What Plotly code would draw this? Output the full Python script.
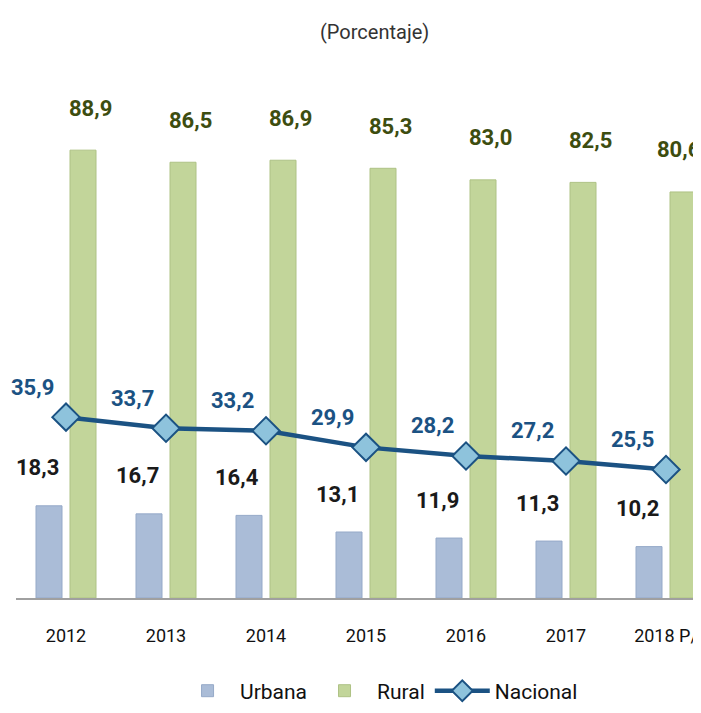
import plotly.graph_objects as go

years = ["2012", "2013", "2014", "2015", "2016", "2017", "2018 P/"]
urbana = [18.3, 16.7, 16.4, 13.1, 11.9, 11.3, 10.2]
rural = [88.9, 86.5, 86.9, 85.3, 83.0, 82.5, 80.6]
nacional = [35.9, 33.7, 33.2, 29.9, 28.2, 27.2, 25.5]

def fmt(v):
    return f"{v:.1f}".replace(".", ",")

FONT = "Roboto, Liberation Sans, sans-serif"

fig = go.Figure()
fig.add_trace(go.Bar(x=years, y=urbana, name="Urbana", offset=-0.30, width=0.26,
                     marker=dict(color="#aabcd7", line=dict(color="#95a9c8", width=1))))
fig.add_trace(go.Bar(x=years, y=rural, name="Rural", offset=0.04, width=0.26,
                     marker=dict(color="#c2d59a", line=dict(color="#aec285", width=1))))
fig.add_trace(go.Scatter(x=years, y=nacional, name="Nacional", mode="lines+markers",
                         line=dict(color="#1b5283", width=4.5),
                         marker=dict(symbol="diamond", size=21, color="#8ec3dc",
                                     line=dict(color="#1b5283", width=2))))

n = len(years)
ann = []
for i in range(n):
    ann.append(dict(x=i, y=urbana[i], text=f"<b>{fmt(urbana[i])}</b>", showarrow=False,
                    xref="x", yref="y", xshift=-29, yshift=38,
                    font=dict(family=FONT, size=22, color="#1a1a1a")))
    ann.append(dict(x=i, y=rural[i], text=f"<b>{fmt(rural[i])}</b>", showarrow=False,
                    xref="x", yref="y", xshift=24 if i < n - 1 else 12, yshift=42,
                    font=dict(family=FONT, size=22, color="#3d4d10")))
    ann.append(dict(x=i, y=nacional[i], text=f"<b>{fmt(nacional[i])}</b>", showarrow=False,
                    xref="x", yref="y", xshift=-34, yshift=30,
                    font=dict(family=FONT, size=22, color="#1b5283")))
ann.append(dict(x=0.524, y=1.0, xref="paper", yref="paper", yanchor="bottom", yshift=84,
                text="(Porcentaje)", showarrow=False,
                font=dict(family=FONT, size=20, color="#333333")))

fig.update_layout(
    width=693, height=705,
    margin=dict(l=8, r=0, t=122, b=115, autoexpand=False),
    paper_bgcolor="white", plot_bgcolor="white",
    barmode="overlay",
    font=dict(family=FONT, size=18, color="#111111"),
    annotations=ann,
    showlegend=True,
    legend=dict(orientation="h", x=0.53, xanchor="center", y=-0.155, yanchor="top",
                font=dict(family=FONT, size=21, color="#111111"),
                itemwidth=55, traceorder="normal"),
    xaxis=dict(type="category", range=[-0.5, 6.35], showline=True, linecolor="#a0a0a0",
               linewidth=2, ticks="", showgrid=False, automargin=False,
               ticklabelstandoff=20,
               tickfont=dict(family=FONT, size=18, color="#111111")),
    yaxis=dict(range=[0, 92.9], visible=False, showgrid=False, zeroline=False,
               automargin=False),
)

fig.write_html("out.html")
